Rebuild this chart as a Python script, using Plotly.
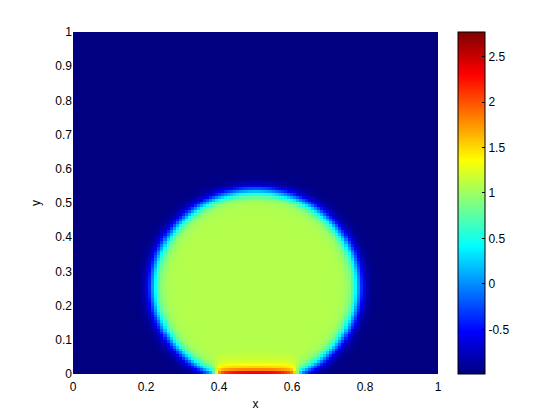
import numpy as np
import plotly.graph_objects as go

# phase-field snapshot: droplet on the bottom wall
n_cells = 121
drop_center = [0.5, 0.255]      # x, y
drop_radius = 0.281
interface_width = 0.02
phi_outside = -0.99
phi_inside = 1.08
hot_span = [0.39, 0.615]        # x extent of the hot strip at y = 0
hot_peak = 2.85
hot_depth = 0.015

x_ticks = [0, 0.2, 0.4, 0.6, 0.8, 1]
y_ticks = [0, 0.1, 0.2, 0.3, 0.4, 0.5, 0.6, 0.7, 0.8, 0.9, 1]
cbar_ticks = [-0.5, 0, 0.5, 1, 1.5, 2, 2.5]
z_range = [-0.99, 2.77]

xs = (np.arange(n_cells) + 0.5) / n_cells
ys = (np.arange(n_cells) + 0.5) / n_cells
X, Y = np.meshgrid(xs, ys)

d = np.hypot(X - drop_center[0], Y - drop_center[1])
z = phi_outside + (phi_inside - phi_outside) * 0.5 * (1 - np.tanh((d - drop_radius) / interface_width))
strip = 0.5 * (np.tanh((X - hot_span[0]) / 0.01) - np.tanh((X - hot_span[1]) / 0.01))
z = z + (hot_peak - phi_inside) * strip * np.exp(-Y / hot_depth)
z = np.clip(z, z_range[0], z_range[1])

jet = [
    [0.0, "rgb(0,0,128)"],
    [0.125, "rgb(0,0,255)"],
    [0.375, "rgb(0,255,255)"],
    [0.625, "rgb(255,255,0)"],
    [0.875, "rgb(255,0,0)"],
    [1.0, "rgb(128,0,0)"],
]

fig = go.Figure(go.Heatmap(
    x=xs, y=ys, z=z,
    zmin=z_range[0], zmax=z_range[1],
    colorscale=jet, zsmooth=False,
    colorbar=dict(
        x=1.055, xanchor="left", xref="paper", xpad=0, ypad=0,
        y=0, yanchor="bottom", len=1, lenmode="fraction",
        thickness=27, outlinewidth=1, outlinecolor="black",
        tickvals=cbar_ticks, ticktext=[str(t) for t in cbar_ticks],
        ticks="inside", ticklen=3, tickcolor="black",
        tickfont=dict(size=12, color="black"),
    ),
))

# the page body adds an 8px margin, so the figure is 8px smaller each way
fig.update_layout(
    width=552, height=412,
    margin=dict(l=65, r=122, t=24, b=46),
    paper_bgcolor="white", plot_bgcolor="white",
    font=dict(family="Liberation Sans, Arial, sans-serif", size=12, color="black"),
)
fig.update_xaxes(
    range=[0, 1], tickvals=x_ticks, ticktext=[str(t) for t in x_ticks],
    showgrid=False, zeroline=False, showline=False, ticks="",
    ticklabelstandoff=4,
    title=dict(text="x", standoff=6, font=dict(size=12)),
)
fig.update_yaxes(
    range=[0, 1], tickvals=y_ticks, ticktext=[str(t) for t in y_ticks],
    showgrid=False, zeroline=False, showline=False, ticks="",
    title=dict(text="y", standoff=12, font=dict(size=12)),
)

fig.write_html("out.html")
